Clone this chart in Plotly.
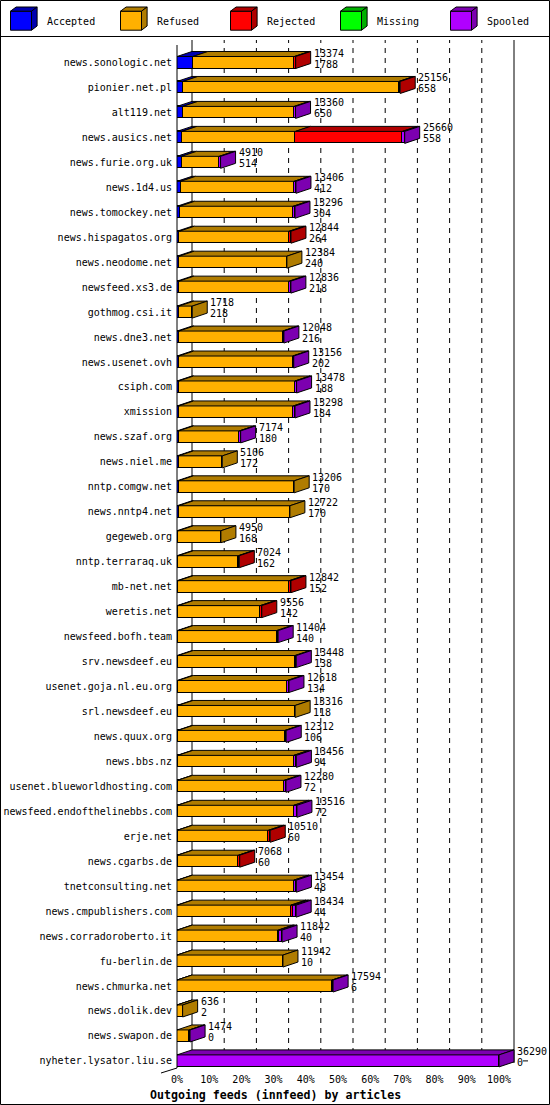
import plotly.graph_objects as go

hosts = ["news.sonologic.net", "pionier.net.pl", "alt119.net", "news.ausics.net",
         "news.furie.org.uk", "news.1d4.us", "news.tomockey.net", "news.hispagatos.org",
         "news.neodome.net", "newsfeed.xs3.de", "gothmog.csi.it", "news.dne3.net",
         "news.usenet.ovh", "csiph.com", "xmission", "news.szaf.org", "news.niel.me",
         "nntp.comgw.net", "news.nntp4.net", "gegeweb.org", "nntp.terraraq.uk",
         "mb-net.net", "weretis.net", "newsfeed.bofh.team", "srv.newsdeef.eu",
         "usenet.goja.nl.eu.org", "srl.newsdeef.eu", "news.quux.org", "news.bbs.nz",
         "usenet.blueworldhosting.com", "newsfeed.endofthelinebbs.com", "erje.net",
         "news.cgarbs.de", "tnetconsulting.net", "news.cmpublishers.com",
         "news.corradoroberto.it", "fu-berlin.de", "news.chmurka.net", "news.dolik.dev",
         "news.swapon.de", "nyheter.lysator.liu.se"]

offered = [13374, 25156, 13360, 25660, 4910, 13406, 13296, 12844, 12384, 12836, 1718,
           12048, 13156, 13478, 13298, 7174, 5106, 13206, 12722, 4950, 7024, 12842, 9556,
           11404, 13448, 12618, 13316, 12312, 13456, 12280, 13516, 10510, 7068, 13454,
           13434, 11842, 11942, 17594, 636, 1474, 36290]

accepted = [1788, 658, 650, 558, 514, 412, 304, 264, 240, 218, 218, 216, 202, 188, 184,
            180, 172, 170, 170, 168, 162, 152, 142, 140, 138, 134, 118, 106, 94, 72, 72,
            60, 60, 48, 44, 40, 10, 6, 2, 0, 0]

refused = [11436, 24348, 12560, 12790, 4246, 12794, 12792, 12380, 12144, 12438, 1500,
           11692, 12834, 13110, 12924, 6844, 4934, 13036, 12552, 4782, 6762, 12510, 9244,
           11094, 13160, 12294, 13198, 12066, 13062, 12008, 13094, 10250, 6858, 13106,
           12804, 11376, 11932, 17468, 634, 1384, 0]

rejected = [150, 150, 0, 12060, 0, 0, 0, 200, 0, 0, 0, 0, 0, 0, 0, 0, 0, 0, 0, 0, 100,
            180, 170, 0, 0, 0, 0, 0, 0, 0, 0, 200, 150, 0, 260, 110, 0, 0, 0, 0, 0]

missing = [0, 0, 0, 0, 0, 0, 0, 0, 0, 0, 0, 0, 0, 0, 0, 0, 0, 0, 0, 0, 0, 0, 0, 0, 0, 0,
           0, 0, 0, 0, 0, 0, 0, 0, 0, 0, 0, 0, 0, 0, 0]

spooled = [0, 0, 150, 252, 150, 200, 200, 0, 0, 180, 0, 140, 120, 180, 190, 150, 0, 0, 0,
           0, 0, 0, 0, 170, 150, 190, 0, 140, 300, 200, 350, 0, 0, 300, 326, 316, 0, 120,
           0, 90, 36290]

tick_pct = [0, 10, 20, 30, 40, 50, 60, 70, 80, 90, 100]
tick_text = ["0%", "10%", "20%", "30%", "40%", "50%", "60%", "70%", "80%", "90%", "100%"]
legend_names = ["Accepted", "Refused", "Rejected", "Missing", "Spooled"]

# ---- style / geometry -----------------------------------------------------
FONT = "DejaVu Sans Mono"
FRONT = ["#0000FF", "#FFB000", "#FF0000", "#00FF00", "#B000FF"]
DARK = ["#0000B0", "#B07C00", "#B00000", "#00B000", "#7C00B0"]
W, H = 550, 1105
ML, MR, MT, MB = 177, 1, 40, 37
PW, PH = W - ML - MR, H - MT - MB
PX_PER_PCT = 3.22
PX_PER_ROW = 24.96
FIRST_ROW_PX = 62.5
DEPTH_X_PX, DEPTH_Y_PX = 15, 5
BAR_PX = 12

DX = DEPTH_X_PX / PX_PER_PCT
DY = DEPTH_Y_PX / PX_PER_ROW
BW = BAR_PX / PX_PER_ROW
y_top = -(FIRST_ROW_PX - MT) / PX_PER_ROW
y_range = [y_top + PH / PX_PER_ROW, y_top]
x_range = [0, PW / PX_PER_PCT]


def paper_x(px):
    return (px - ML) / PW


def paper_y(py):
    return (H - MB - py) / PH


n = len(hosts)
rows = list(range(n))
scale = 100.0 / max(offered)
series = [accepted, refused, rejected, missing, spooled]

fig = go.Figure()

# front faces: stacked horizontal bars
for k, vals in enumerate(series):
    fig.add_trace(go.Bar(
        y=rows, x=[v * scale if v > 0 else None for v in vals], orientation="h",
        width=BW, marker=dict(color=FRONT[k], line=dict(color="black", width=1)),
        name=legend_names[k], showlegend=False, hoverinfo="skip"))

# top and side faces (3D look) computed from the same values
top_x = [[] for _ in series]
top_y = [[] for _ in series]
side_x = [[] for _ in series]
side_y = [[] for _ in series]
ends = []
for i in rows:
    left = 0.0
    last = None
    yt = i - BW / 2
    yb = i + BW / 2
    for k, vals in enumerate(series):
        if vals[i] > 0:
            x0, x1 = left, left + vals[i] * scale
            top_x[k] += [x0, x1, x1 + DX, x0 + DX, x0, None]
            top_y[k] += [yt, yt, yt - DY, yt - DY, yt, None]
            left = x1
            last = k
    ends.append(left)
    if last is not None:
        side_x[last] += [left, left + DX, left + DX, left, left, None]
        side_y[last] += [yt, yt - DY, yb - DY, yb, yt, None]

for k in range(len(series)):
    for xs, ys in ((top_x[k], top_y[k]), (side_x[k], side_y[k])):
        if xs:
            fig.add_trace(go.Scatter(
                x=xs, y=ys, mode="lines", fill="toself", fillcolor=DARK[k],
                line=dict(color="black", width=1), showlegend=False, hoverinfo="skip"))

# value labels (offered / accepted)
annotations = []
for i in rows:
    xl = ends[i] + DX
    annotations.append(dict(x=xl, y=i - 9.5 / PX_PER_ROW, xref="x", yref="y",
                            text=str(offered[i]), showarrow=False, xanchor="left",
                            yanchor="middle", xshift=1,
                            font=dict(family=FONT, size=10, color="black")))
    annotations.append(dict(x=xl, y=i + 1.5 / PX_PER_ROW, xref="x", yref="y",
                            text=str(accepted[i]), showarrow=False, xanchor="left",
                            yanchor="middle", xshift=1,
                            font=dict(family=FONT, size=10, color="black")))

# title
annotations.append(dict(x=paper_x(275), y=paper_y(1095), xref="paper", yref="paper",
                        text="<b>Outgoing feeds (innfeed) by articles</b>", showarrow=False,
                        xanchor="center", yanchor="middle",
                        font=dict(family=FONT, size=11.6, color="black")))

shapes = []
# back wall grid lines
gy0 = paper_y(H - MB - DEPTH_Y_PX)
for p in tick_pct:
    solid = p in (0, 100)
    shapes.append(dict(type="line", xref="x", yref="paper", x0=p + DX, x1=p + DX,
                       y0=gy0, y1=1, layer="below",
                       line=dict(color="black", width=1,
                                 dash="solid" if solid else "5px,5px")))
# front left axis and floor corner
shapes.append(dict(type="line", xref="paper", yref="paper", x0=0, x1=0,
                   y0=0, y1=paper_y(MT + DEPTH_Y_PX), line=dict(color="black", width=1)))
shapes.append(dict(type="line", xref="paper", yref="paper", x0=0,
                   x1=paper_x(ML - DEPTH_X_PX - 1), y0=0, y1=paper_y(H - MB + DEPTH_Y_PX),
                   line=dict(color="black", width=1)))
# small tick after the last row's label
shapes.append(dict(type="line", xref="x", yref="y", xsizemode="pixel", xanchor=ends[-1] + DX,
                   x0=9, x1=14, y0=rows[-1], y1=rows[-1],
                   line=dict(color="black", width=1)))

# outer frame and legend separator
shapes.append(dict(type="rect", xref="paper", yref="paper", x0=paper_x(0.5), x1=paper_x(549.5),
                   y0=paper_y(1104.5), y1=paper_y(0.5), line=dict(color="black", width=1)))
shapes.append(dict(type="line", xref="paper", yref="paper", x0=paper_x(0), x1=paper_x(550),
                   y0=paper_y(36.5), y1=paper_y(36.5), line=dict(color="black", width=1)))

# legend glyphs
for k, name in enumerate(legend_names):
    x0 = 10.5 + 110 * k
    x1 = x0 + 21
    ya, yb2 = 11.2, 30.2
    ldx, ldy = 5.6, 4.2
    shapes.append(dict(type="rect", xref="paper", yref="paper", x0=paper_x(x0), x1=paper_x(x1),
                       y0=paper_y(yb2), y1=paper_y(ya), fillcolor=FRONT[k],
                       line=dict(color="black", width=1)))
    top_path = "M {} {} L {} {} L {} {} L {} {} Z".format(
        paper_x(x0), paper_y(ya), paper_x(x1), paper_y(ya),
        paper_x(x1 + ldx), paper_y(ya - ldy), paper_x(x0 + ldx), paper_y(ya - ldy))
    side_path = "M {} {} L {} {} L {} {} L {} {} Z".format(
        paper_x(x1), paper_y(ya), paper_x(x1 + ldx), paper_y(ya - ldy),
        paper_x(x1 + ldx), paper_y(yb2 - ldy), paper_x(x1), paper_y(yb2))
    for pth in (top_path, side_path):
        shapes.append(dict(type="path", xref="paper", yref="paper", path=pth,
                           fillcolor=DARK[k], line=dict(color="black", width=1)))
    annotations.append(dict(x=paper_x(x1 + 13), y=paper_y(21), xref="paper", yref="paper",
                            text=name, showarrow=False, xanchor="left", yanchor="middle",
                            font=dict(family=FONT, size=10, color="black")))

fig.update_layout(
    width=W, height=H, margin=dict(l=ML, r=MR, t=MT, b=MB, pad=0),
    paper_bgcolor="white", plot_bgcolor="white", barmode="stack", bargap=0,
    showlegend=False, shapes=shapes, annotations=annotations,
    xaxis=dict(range=x_range, tickvals=tick_pct, ticktext=tick_text, showgrid=False,
               zeroline=False, showline=False, ticks="", ticklabelstandoff=4,
               tickfont=dict(family=FONT, size=10, color="black"), fixedrange=True),
    yaxis=dict(range=y_range, tickvals=rows, ticktext=hosts, showgrid=False,
               zeroline=False, showline=False, ticks="", ticklabelstandoff=4,
               tickfont=dict(family=FONT, size=10, color="black"), fixedrange=True),
)

fig.write_html(
    "out.html",
    config={"displayModeBar": False},
    post_script="document.body.style.margin='0';document.body.style.overflow='hidden';",
)
